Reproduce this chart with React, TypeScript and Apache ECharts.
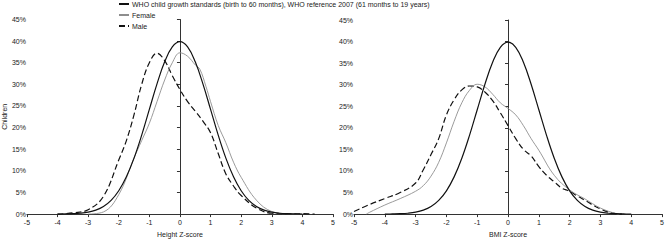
import React, { useEffect, useRef } from "react";
import * as echarts from "echarts";

// WHO reference curve (same in both panels)
const whoZ = [-4, -3.75, -3.5, -3.25, -3, -2.75, -2.5, -2.25, -2, -1.75, -1.5, -1.25, -1, -0.75, -0.5, -0.25, 0, 0.25, 0.5, 0.75, 1, 1.25, 1.5, 1.75, 2, 2.25, 2.5, 2.75, 3, 3.25, 3.5, 3.75, 4];
const whoPct = [0.01, 0.04, 0.09, 0.2, 0.44, 0.91, 1.75, 3.17, 5.4, 8.63, 12.95, 18.26, 24.2, 30.11, 35.21, 38.67, 39.89, 38.67, 35.21, 30.11, 24.2, 18.26, 12.95, 8.63, 5.4, 3.17, 1.75, 0.91, 0.44, 0.2, 0.09, 0.04, 0.01];

// Height Z-score panel
const heightFemaleZ = [-3, -2.5, -2, -1.5, -1.25, -1, -0.75, -0.5, -0.25, 0, 0.25, 0.5, 0.65, 0.85, 1, 1.25, 1.5, 1.75, 2, 2.5, 3, 3.5, 4];
const heightFemalePct = [0, 0.5, 4.5, 13, 17, 21, 26, 31, 35, 37.3, 36.5, 34.5, 33.5, 29.5, 26, 20.5, 16.5, 12, 8.5, 3.2, 0.6, 0.1, 0];
const heightMaleZ = [-4, -3.5, -3, -2.5, -2, -1.75, -1.5, -1.25, -1, -0.75, -0.5, -0.25, 0, 0.25, 0.5, 0.75, 1, 1.25, 1.5, 1.75, 2, 2.5, 3, 3.5, 4, 4.4];
const heightMalePct = [0, 0.3, 1.0, 4.1, 12.5, 17, 23, 30, 35, 37.2, 35.5, 32, 28.8, 26, 23.8, 21.5, 18.8, 14, 9.3, 6.5, 4.3, 1.4, 0.2, 0.1, 0.1, 0];

// BMI Z-score panel
const bmiFemaleZ = [-4.6, -4.5, -4, -3.5, -3, -2.75, -2.5, -2.25, -2, -1.75, -1.5, -1.25, -1, -0.75, -0.5, -0.25, 0, 0.25, 0.5, 0.75, 1, 1.5, 2, 2.5, 3, 3.5, 3.6];
const bmiFemalePct = [0, 0.4, 2.1, 3.6, 5.3, 6.6, 8.8, 12, 16.5, 21.5, 25.8, 28.7, 30.1, 29.5, 27.8, 25.8, 24.5, 23, 20.5, 17.5, 14.8, 9, 5.6, 3.5, 1.4, 0.1, 0];
const bmiMaleZ = [-5, -4.5, -4, -3.5, -3, -2.75, -2.5, -2.25, -2, -1.75, -1.5, -1.25, -1, -0.75, -0.5, -0.25, 0, 0.25, 0.5, 0.75, 1, 1.25, 1.5, 1.75, 2, 2.25, 2.5, 3, 3.5, 3.7];
const bmiMalePct = [0.6, 2.2, 3.6, 5.0, 7.2, 10.3, 13.8, 17.5, 23, 26.5, 28.8, 29.7, 29.5, 28.3, 26.3, 23.5, 20.5, 17.5, 15, 13.5, 11, 9, 7.5, 6.0, 5.3, 4.2, 3.2, 1.2, 0.1, 0];

const seriesNames = [
  "WHO child growth standards (birth to 60 months), WHO reference 2007 (61 months to 19 years)",
  "Female",
  "Male",
];
const xAxisNames = ["Height Z-score", "BMI Z-score"];
const yAxisName = "Children";

const zip = (xs: number[], ys: number[]) => xs.map((x, i) => [x, ys[i]]);

const FONT = "'Liberation Sans', Arial, sans-serif";
const FS = 7;

export default function App() {
  const ref = useRef<HTMLDivElement>(null);
  useEffect(() => {
    const chart = echarts.init(ref.current!, null, { renderer: "svg" });
    const styles = [
      { color: "#111", width: 1.2, type: "solid" as any },
      { color: "#8e8e8e", width: 0.9, type: "solid" as any },
      { color: "#111", width: 1.2, type: [6, 3] as any },
    ];
    const panelData = [
      [zip(whoZ, whoPct), zip(heightFemaleZ, heightFemalePct), zip(heightMaleZ, heightMalePct)],
      [zip(whoZ, whoPct), zip(bmiFemaleZ, bmiFemalePct), zip(bmiMaleZ, bmiMalePct)],
    ];
    const series: any[] = [];
    panelData.forEach((sets, p) => {
      sets.forEach((d, s) => {
        series.push({
          type: "line",
          name: seriesNames[s],
          xAxisIndex: p,
          yAxisIndex: p,
          data: d,
          smooth: 0.4,
          symbol: "none",
          legendIcon: "rect",
          lineStyle: styles[s],
          itemStyle: { color: styles[s].color },
          z: 3 - s,
        });
      });
    });
    const axisLine = { show: true, lineStyle: { color: "#333", width: 1 } };
    const mkX = (i: number) => ({
      type: "value",
      gridIndex: i,
      min: -5,
      max: 5,
      interval: 1,
      name: xAxisNames[i],
      nameLocation: "middle",
      nameGap: 15,
      nameTextStyle: { fontFamily: FONT, fontSize: FS, color: "#222" },
      axisLine,
      axisTick: { show: true, length: 3, lineStyle: { color: "#333" } },
      axisLabel: { fontFamily: FONT, fontSize: FS, color: "#222", margin: 5 },
      splitLine: { show: false },
    });
    const mkY = (i: number) => ({
      type: "value",
      gridIndex: i,
      min: 0,
      max: 45,
      interval: 5,
      name: i === 0 ? yAxisName : "",
      nameLocation: "middle",
      nameGap: 15,
      nameTextStyle: { fontFamily: FONT, fontSize: FS, color: "#222" },
      axisLine,
      axisTick: { show: true, length: 3, lineStyle: { color: "#333" } },
      axisLabel: { fontFamily: FONT, fontSize: FS, color: "#222", margin: 1, formatter: "{value}%" },
      splitLine: { show: false },
    });
    chart.setOption({
      animation: false,
      backgroundColor: "#fff",
      legend: {
        data: seriesNames,
        orient: "vertical",
        left: 118,
        top: 0,
        itemWidth: 10,
        itemHeight: 8,
        itemGap: 3,
        padding: 0,
        itemStyle: { opacity: 0 },
        textStyle: { fontFamily: FONT, fontSize: FS, color: "#222", lineHeight: 8, height: 8, padding: [0, 0, 0, -2] },
      },
      grid: [
        { left: 22, top: 19.5, width: 311, height: 199.5 },
        { left: 354, top: 20, width: 311, height: 199 },
      ],
      xAxis: [mkX(0), mkX(1)],
      yAxis: [mkY(0), mkY(1)],
      series,
    });
    return () => chart.dispose();
  }, []);
  return (
    <div
      ref={ref}
      style={{ position: "fixed", left: 0, top: 0, width: 667, height: 243 }}
    />
  );
}
